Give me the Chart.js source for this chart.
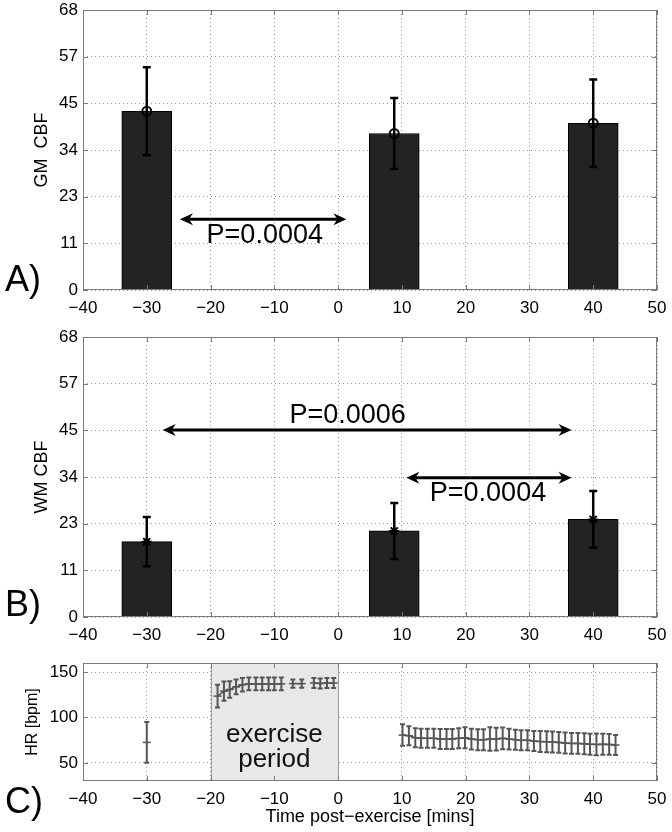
<!DOCTYPE html>
<html>
<head>
<meta charset="utf-8">
<script src="https://cdn.jsdelivr.net/npm/chart.js@4.4.0/dist/chart.umd.min.js"></script>
<style>
  body { margin: 0; background: #fff; width: 672px; height: 832px; position: relative; overflow: hidden; font-family: 'Liberation Sans', Arial, sans-serif; }
  canvas { position: absolute; left: 0; }
  .panel-tag { position: absolute; left: 5px; font-size: 36px; line-height: 36px; color: #000; }
</style>
</head>
<body>
<canvas id="chartA" width="672" height="320" style="top:0"></canvas>
<canvas id="chartB" width="672" height="322" style="top:320px"></canvas>
<canvas id="chartC" width="672" height="187" style="top:645px"></canvas>
<div class="panel-tag" style="top:261px">A)</div>
<div class="panel-tag" style="top:586px">B)</div>
<div class="panel-tag" style="top:783px">C)</div>

<script>
// ============================================
// DATA
// ============================================
const FONT = "'Liberation Sans', Arial, sans-serif";

const timeTicks = [-40, -30, -20, -10, 0, 10, 20, 30, 40, 50];

// CBF bars (panels A and B)
const cbfTime = [-30, 8.8, 40];
const gmMean = [43.4, 38.0, 40.5];
const gmErr = [10.7, 8.6, 10.6];
const wmMean = [18.3, 20.9, 23.7];
const wmErr = [6.0, 6.8, 6.9];
const cbfTickLabels = ['0', '11', '23', '34', '45', '57', '68'];
const cbfMax = 68;

// significance arrows: [from, to, level], text and text centre
const gmArrows = [[-24.8, 1.3, 17.2]];
const gmPText = ['P=0.0004'];
const gmPPos = [[-11.5, 13.2]];
const wmArrows = [[-27.5, 36.6, 45.4], [10.7, 36.6, 33.8]];
const wmPText = ['P=0.0006', 'P=0.0004'];
const wmPPos = [[1.5, 49.0], [23.5, 29.9]];

// heart rate (panel C)
const hrTicks = [50, 100, 150];
const hrRange = [30, 160];
const exercisePeriod = [-20, 0];
const exerciseText = ['exercise', 'period'];
const exerciseTextPos = [[-10, 73.2], [-10, 45.6]];

const hrRestTime = [-30];
const hrRest = [72.5];
const hrRestErr = [22.5];

const hrEx1Time = [-18.9, -17.9, -17.0, -16.0, -15.0, -14.0, -12.9, -11.9, -10.9, -10.0, -8.9];
const hrEx1 = [123.5, 129.0, 130.8, 133.7, 136.0, 137.0, 137.0, 137.0, 137.0, 137.0, 137.0];
const hrEx1Err = [12.5, 10.7, 9.0, 8.0, 7.5, 7.0, 7.0, 7.0, 7.0, 7.0, 7.0];

const hrEx2Time = [-7.1, -5.7];
const hrEx2 = [137.3, 137.3];
const hrEx2Err = [4.5, 4.5];

const hrEx3Time = [-3.8, -2.8, -1.75, -0.7];
const hrEx3 = [138.0, 137.5, 138.0, 138.0];
const hrEx3Err = [5.5, 5.5, 5.5, 5.5];

const hrPostTime = [10.1, 11.1, 12.1, 13.0, 14.0, 15.0, 16.0, 17.0, 17.9, 18.9,
                    19.9, 20.9, 21.9, 22.8, 23.8, 24.8, 25.8, 26.8, 27.8, 28.7,
                    29.7, 30.7, 31.7, 32.7, 33.6, 34.6, 35.6, 36.6, 37.6, 38.6,
                    39.5, 40.5, 41.5, 42.5, 43.5];
const hrPost = [80.6, 79.9, 77.7, 77.0, 77.0, 77.0, 76.2, 76.2, 76.2, 77.0,
                77.7, 76.2, 75.5, 75.5, 76.2, 76.2, 77.0, 76.2, 75.5, 74.8,
                74.8, 74.0, 73.5, 73.3, 73.0, 72.5, 71.8, 71.4, 71.4, 71.0,
                70.5, 70.3, 70.5, 70.3, 69.6];
const hrPostErr = [11.8, 10.5, 10.5, 10.5, 10.5, 10.5, 11.0, 11.0, 11.0, 11.0,
                   11.5, 11.5, 11.5, 11.5, 13.0, 12.5, 12.0, 11.5, 11.0, 11.0,
                   11.0, 11.0, 11.5, 11.5, 11.5, 11.5, 11.5, 11.5, 11.5, 11.5,
                   11.5, 12.0, 11.5, 11.5, 11.0];

// ============================================
// HELPERS
// ============================================
const pts = (xs, ys) => xs.map((x, i) => ({ x: x, y: ys[i] }));
const minusLabel = v => (v < 0 ? '\u2212' + Math.abs(v) : String(v));

function timeAxis(height, title) {
    return {
        type: 'linear',
        min: -40,
        max: 50,
        offset: false,
        afterBuildTicks: s => { s.ticks = timeTicks.map(v => ({ value: v })); },
        ticks: { color: '#000', font: { family: FONT, size: 17 }, padding: 8, maxRotation: 0, autoSkip: false, callback: minusLabel },
        grid: { color: '#9a9a9a', drawTicks: false, offset: false, lineWidth: 1 },
        border: { display: false, dash: [1, 3] },
        title: title
            ? { display: true, text: title, color: '#000', font: { family: FONT, size: 18 }, padding: { top: 0, bottom: 4 } }
            : { display: false },
        afterFit: s => { s.height = height; s.paddingLeft = 0; s.paddingRight = 0; }
    };
}

function valueAxis(min, max, values, labels, title, titleSize, titlePad) {
    return {
        type: 'linear',
        min: min,
        max: max,
        afterBuildTicks: s => { s.ticks = values.map(v => ({ value: v })); },
        ticks: { color: '#000', font: { family: FONT, size: 17 }, padding: 5, autoSkip: false, callback: (v, i) => labels[i] },
        grid: { color: '#9a9a9a', drawTicks: false, lineWidth: 1 },
        border: { display: false, dash: [1, 3] },
        title: { display: true, text: title, color: '#000', font: { family: FONT, size: titleSize }, padding: { top: titlePad, bottom: 0 } },
        afterFit: s => { s.width = 83; s.paddingTop = 0; s.paddingBottom = 0; }
    };
}

// ============================================
// PLUGINS
// ============================================
const frame = {
    id: 'frame',
    afterDatasetsDraw(chart) {
        const { ctx, chartArea: a, scales: { x, y } } = chart;
        ctx.save();
        ctx.strokeStyle = '#7a7a7a';
        ctx.lineWidth = 1;
        ctx.beginPath();
        x.ticks.forEach(t => {
            const px = Math.round(x.getPixelForValue(t.value)) + 0.5;
            ctx.moveTo(px, a.bottom); ctx.lineTo(px, a.bottom - 5);
            ctx.moveTo(px, a.top); ctx.lineTo(px, a.top + 5);
        });
        y.ticks.forEach(t => {
            const py = Math.round(y.getPixelForValue(t.value)) + 0.5;
            ctx.moveTo(a.left, py); ctx.lineTo(a.left + 5, py);
            ctx.moveTo(a.right, py); ctx.lineTo(a.right - 5, py);
        });
        ctx.stroke();
        ctx.strokeRect(Math.round(a.left) + 0.5, Math.round(a.top) + 0.5, Math.round(a.width) - 1, Math.round(a.height) - 1);
        ctx.restore();
    }
};

function makeErrorBars(sets) {
    return {
        id: 'errorBars',
        afterDatasetsDraw(chart) {
            const { ctx, scales: { x, y } } = chart;
            ctx.save();
            sets.forEach(s => {
                ctx.strokeStyle = s.color;
                ctx.lineWidth = s.width;
                ctx.beginPath();
                s.x.forEach((t, i) => {
                    const px = x.getPixelForValue(t);
                    const top = y.getPixelForValue(s.y[i] + s.err[i]);
                    const bot = y.getPixelForValue(s.y[i] - s.err[i]);
                    ctx.moveTo(px, top); ctx.lineTo(px, bot);
                    ctx.moveTo(px - s.cap, top); ctx.lineTo(px + s.cap, top);
                    ctx.moveTo(px - s.cap, bot); ctx.lineTo(px + s.cap, bot);
                });
                ctx.stroke();
            });
            ctx.restore();
        }
    };
}

function makeArrows(arrows, texts, textPos) {
    const head = (ctx, tipX, y, dir) => {
        ctx.beginPath();
        ctx.moveTo(tipX, y);
        ctx.lineTo(tipX + dir * 13, y - 6);
        ctx.lineTo(tipX + dir * 9, y);
        ctx.lineTo(tipX + dir * 13, y + 6);
        ctx.closePath();
        ctx.fill();
    };
    return {
        id: 'pArrows',
        afterDatasetsDraw(chart) {
            const { ctx, scales: { x, y } } = chart;
            ctx.save();
            ctx.strokeStyle = '#000';
            ctx.fillStyle = '#000';
            ctx.lineWidth = 3;
            arrows.forEach(([from, to, level]) => {
                const x1 = x.getPixelForValue(from);
                const x2 = x.getPixelForValue(to);
                const py = y.getPixelForValue(level);
                ctx.beginPath();
                ctx.moveTo(x1 + 8, py);
                ctx.lineTo(x2 - 8, py);
                ctx.stroke();
                head(ctx, x1, py, 1);
                head(ctx, x2, py, -1);
            });
            ctx.font = '27px ' + FONT;
            ctx.textAlign = 'center';
            ctx.textBaseline = 'middle';
            texts.forEach((t, i) => {
                ctx.fillText(t, x.getPixelForValue(textPos[i][0]), y.getPixelForValue(textPos[i][1]));
            });
            ctx.restore();
        }
    };
}

const exerciseShade = {
    id: 'exerciseShade',
    beforeDatasetsDraw(chart) {
        const { ctx, chartArea: a, scales: { x, y } } = chart;
        const x1 = Math.round(x.getPixelForValue(exercisePeriod[0])) + 0.5;
        const x2 = Math.round(x.getPixelForValue(exercisePeriod[1])) + 0.5;
        ctx.save();
        ctx.fillStyle = '#e8e8e8';
        ctx.fillRect(x1, a.top, x2 - x1, a.height);
        ctx.strokeStyle = '#9a9a9a';
        ctx.lineWidth = 1;
        ctx.beginPath();
        ctx.moveTo(x1, a.top); ctx.lineTo(x1, a.bottom);
        ctx.moveTo(x2, a.top); ctx.lineTo(x2, a.bottom);
        ctx.stroke();
        ctx.fillStyle = '#111';
        ctx.font = '26px ' + FONT;
        ctx.textAlign = 'center';
        ctx.textBaseline = 'alphabetic';
        exerciseText.forEach((t, i) => {
            ctx.fillText(t, x.getPixelForValue(exerciseTextPos[i][0]), y.getPixelForValue(exerciseTextPos[i][1]));
        });
        ctx.restore();
    }
};

// ============================================
// CHARTS
// ============================================
const cbfTickValues = cbfTickLabels.map((l, i) => i * cbfMax / (cbfTickLabels.length - 1));

function cbfChart(id, means, errs, marker, title, arrows, texts, textPos, topPad, xHeight) {
    return new Chart(document.getElementById(id), {
        type: 'bar',
        data: {
            datasets: [
                {
                    type: 'bar',
                    data: pts(cbfTime, means),
                    backgroundColor: '#232323',
                    borderColor: '#000',
                    borderWidth: 1,
                    barThickness: 50,
                    grouped: false,
                    order: 2
                },
                {
                    type: 'scatter',
                    data: pts(cbfTime, means),
                    pointStyle: marker,
                    pointRadius: marker === 'circle' ? 4.5 : 5,
                    borderColor: '#000',
                    borderWidth: 2,
                    backgroundColor: marker === 'circle' ? 'rgba(0,0,0,0)' : '#000',
                    order: 1
                }
            ]
        },
        options: {
            responsive: false,
            animation: false,
            layout: { padding: { left: 0, right: 15, top: topPad, bottom: 0 } },
            plugins: { legend: { display: false }, tooltip: { enabled: false } },
            scales: {
                x: timeAxis(xHeight, null),
                y: valueAxis(0, cbfMax, cbfTickValues, cbfTickLabels, title, 18, 31)
            }
        },
        plugins: [
            makeErrorBars([{ x: cbfTime, y: means, err: errs, color: '#000', width: 2.5, cap: 4 }]),
            makeArrows(arrows, texts, textPos),
            frame
        ]
    });
}

cbfChart('chartA', gmMean, gmErr, 'circle', 'GM  CBF', gmArrows, gmPText, gmPPos, 10, 30);
cbfChart('chartB', wmMean, wmErr, 'star', 'WM CBF', wmArrows, wmPText, wmPPos, 17, 25);

const hrLine = (xs, ys) => ({
    data: pts(xs, ys),
    showLine: true,
    borderColor: '#555',
    borderWidth: 1.5,
    pointStyle: 'line',
    pointRadius: 4,
    pointBorderColor: '#555',
    pointBorderWidth: 1.5
});

new Chart(document.getElementById('chartC'), {
    type: 'scatter',
    data: {
        datasets: [
            hrLine(hrRestTime, hrRest),
            hrLine(hrEx1Time, hrEx1),
            hrLine(hrEx2Time, hrEx2),
            hrLine(hrEx3Time, hrEx3),
            hrLine(hrPostTime, hrPost)
        ]
    },
    options: {
        responsive: false,
        animation: false,
        layout: { padding: { left: 0, right: 15, top: 18, bottom: 0 } },
        plugins: { legend: { display: false }, tooltip: { enabled: false } },
        scales: {
            x: timeAxis(51, 'Time post\u2212exercise [mins]'),
            y: valueAxis(hrRange[0], hrRange[1], hrTicks, hrTicks.map(String), 'HR [bpm]', 16, 23)
        }
    },
    plugins: [
        exerciseShade,
        makeErrorBars([
            { x: hrRestTime, y: hrRest, err: hrRestErr, color: '#555', width: 2, cap: 2.5 },
            { x: hrEx1Time, y: hrEx1, err: hrEx1Err, color: '#555', width: 2, cap: 2.5 },
            { x: hrEx2Time, y: hrEx2, err: hrEx2Err, color: '#555', width: 2, cap: 2.5 },
            { x: hrEx3Time, y: hrEx3, err: hrEx3Err, color: '#555', width: 2, cap: 2.5 },
            { x: hrPostTime, y: hrPost, err: hrPostErr, color: '#555', width: 2, cap: 2.5 }
        ]),
        frame
    ]
});
</script>
</body>
</html>
